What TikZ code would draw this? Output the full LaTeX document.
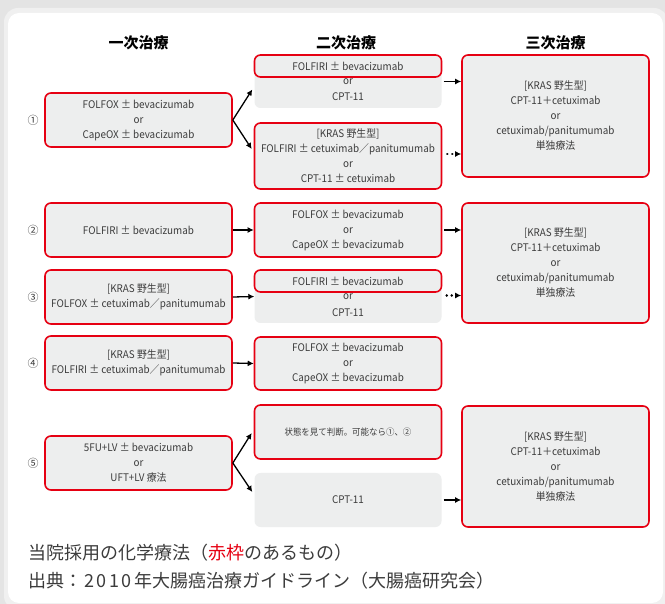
\documentclass[tikz,border=0pt]{standalone}
\usepackage{fontspec}
\setmainfont{Noto Sans CJK JP}
\newfontfamily\jpfont{Noto Sans CJK JP}
\newfontfamily\boxfont[FakeStretch=0.94]{Noto Sans CJK JP}
\usetikzlibrary{arrows.meta,calc}
\definecolor{redline}{HTML}{E60012}
\definecolor{boxgray}{HTML}{EDEEEE}
\definecolor{txt}{HTML}{3C3C3C}
\definecolor{bggray}{HTML}{E4E4E4}
\tikzset{
  redbox/.style={draw=redline, line width=1.6pt, fill=boxgray, rounded corners=6pt,
    align=center, inner sep=0pt, text=txt, font={\boxfont\fontsize{10.5}{15}\selectfont}},
  graybox/.style={fill=boxgray, rounded corners=6pt, inner sep=0pt},
  plain/.style={align=center, inner sep=0pt, text=txt, font={\boxfont\fontsize{10.5}{15}\selectfont}},
  head/.style={inner sep=0pt, text=black, font={\jpfont\bfseries\fontsize{15}{18}\selectfont}},
  num/.style={inner sep=0pt, text=txt, font={\jpfont\fontsize{11}{13}\selectfont}},
  arr/.style={line width=1.3pt, -{Latex[length=6pt,width=6pt]}},
  darr/.style={line width=2.6pt, dash pattern=on 0.01pt off 5pt, line cap=round, -{Latex[length=6pt,width=6pt]}},
  note/.style={anchor=west, inner sep=0pt, text=txt, font={\jpfont\fontsize{18}{20}\selectfont}}
}
\begin{document}
\begin{tikzpicture}[x=1pt,y=-1pt]
\useasboundingbox (0,0) rectangle (665,604);
% background and panel
\fill[bggray] (0,0) rectangle (665,604);
\fill[black!6, rounded corners=14pt] (4,8) rectangle (668,610);
\fill[white, rounded corners=11pt] (8,13) rectangle (663,603);
% headers
\node[head] (h1) at (138.5,43) {一次治療};
\node[head] (h2) at (346,43) {二次治療};
\node[head] (h3) at (555.5,43) {三次治療};
% row 1
\node[num] (n1) at (33,120) {①};
\node[redbox, minimum width=187, minimum height=54] (a1) at (138.5,120)
  {FOLFOX ± bevacizumab\\or\\CapeOX ± bevacizumab};
\node[graybox, minimum width=187, minimum height=53] (g1) at (348,81.5) {};
\node[redbox, minimum width=187, minimum height=22] (g1t) at (348,66) {FOLFIRI ± bevacizumab};
\node[plain] (g1o) at (348,82) {or};
\node[plain] (g1c) at (348,97) {CPT-11};
\node[redbox, minimum width=187, minimum height=66] (b1) at (348,156)
  {[KRAS 野生型]\\FOLFIRI ± cetuximab／panitumumab\\or\\CPT-11 ± cetuximab};
\node[redbox, minimum width=187, minimum height=122] (c1) at (555.5,116)
  {[KRAS 野生型]\\CPT-11＋cetuximab\\or\\cetuximab/panitumumab\\単独療法};
\draw[arr] (a1.east) -- ($(g1.west)+(-2,8)$);
\draw[arr] (a1.east) -- ($(b1.west)+(-2,-7)$);
\draw[arr] ($(g1.east)+(2,0)$) -- (g1.east -| c1.west);
\draw[darr] ($(b1.east)+(5,-2)$) -- ($(b1.east -| c1.west)+(0,-2)$);
% row 2
\node[num] (n2) at (33,230) {②};
\node[redbox, minimum width=187, minimum height=54] (a2) at (138.5,230) {FOLFIRI ± bevacizumab};
\node[redbox, minimum width=187, minimum height=54] (b2) at (348,230)
  {FOLFOX ± bevacizumab\\or\\CapeOX ± bevacizumab};
\node[redbox, minimum width=187, minimum height=120] (c2) at (555.5,263)
  {[KRAS 野生型]\\CPT-11＋cetuximab\\or\\cetuximab/panitumumab\\単独療法};
\draw[arr] (a2.east) -- (b2.west);
\draw[arr] ($(b2.east)+(2,0)$) -- (b2.east -| c2.west);
% row 3
\node[num] (n3) at (33,297) {③};
\node[redbox, minimum width=187, minimum height=54] (a3) at (138.5,297)
  {[KRAS 野生型]\\FOLFOX ± cetuximab／panitumumab};
\node[graybox, minimum width=187, minimum height=53] (g3) at (348,296.5) {};
\node[redbox, minimum width=187, minimum height=22] (g3t) at (348,281) {FOLFIRI ± bevacizumab};
\node[plain] (g3o) at (348,297) {or};
\node[plain] (g3c) at (348,313) {CPT-11};
\draw[arr] (a3.east) -- (g3.west);
\draw[darr] ($(g3.east)+(5,-1)$) -- ($(g3.east -| c2.west)+(0,-1)$);
% row 4
\node[num] (n4) at (33,363) {④};
\node[redbox, minimum width=187, minimum height=54] (a4) at (138.5,363)
  {[KRAS 野生型]\\FOLFIRI ± cetuximab／panitumumab};
\node[redbox, minimum width=187, minimum height=53] (b4) at (348,363.5)
  {FOLFOX ± bevacizumab\\or\\CapeOX ± bevacizumab};
\draw[arr] (a4.east) -- (b4.west);
% row 5
\node[num] (n5) at (33,463) {⑤};
\node[redbox, minimum width=187, minimum height=54] (a5) at (138.5,463)
  {5FU+LV ± bevacizumab\\or\\UFT+LV 療法};
\node[redbox, minimum width=187, minimum height=54, font={\boxfont\fontsize{9}{12}\selectfont}] (b5) at (348,432)
  {状態を見て判断。可能なら①、②};
\node[graybox, minimum width=187, minimum height=54] (g5) at (348,500) {};
\node[plain] (g5c) at (348,500) {CPT-11};
\node[redbox, minimum width=187, minimum height=121] (c5) at (555.5,466.5)
  {[KRAS 野生型]\\CPT-11＋cetuximab\\or\\cetuximab/panitumumab\\単独療法};
\draw[arr] (a5.east) -- ($(b5.west)+(-2,1)$);
\draw[arr] (a5.east) -- ($(g5.west)+(-2,-8)$);
\draw[arr] ($(g5.east)+(2,0)$) -- (g5.east -| c5.west);
% notes
\node[note] (t1) at (28,553) {当院採用の化学療法（\textcolor{redline}{赤枠}のあるもの）};
\node[note] (t2) at (28,581) {出典：\hspace{2pt}2\hspace{2.5pt}0\hspace{2.5pt}1\hspace{2.5pt}0\hspace{2.5pt}年大腸癌治療ガイドライン（大腸癌研究会）};
\end{tikzpicture}
\end{document}
